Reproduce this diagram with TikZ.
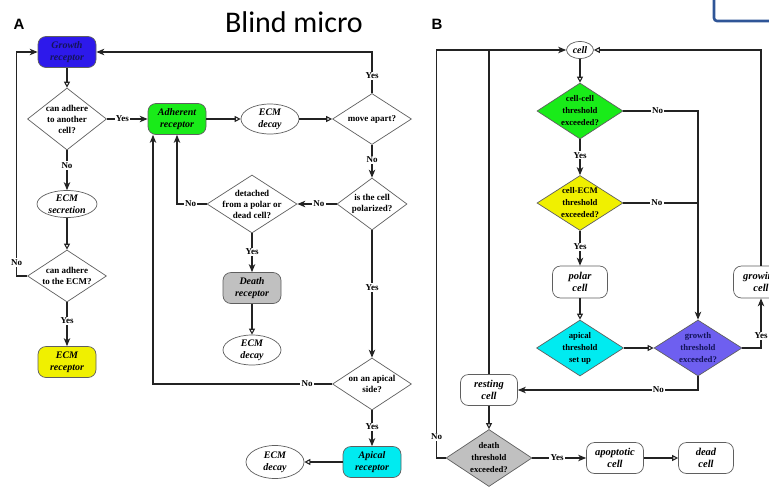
\documentclass[tikz,border=0pt]{standalone}
\usepackage{fontspec}
\setmainfont{Liberation Serif}
\newfontfamily\calib{Carlito}
\newfontfamily\lsans{Liberation Sans}
\usetikzlibrary{shapes.geometric,arrows.meta}
\definecolor{lc}{RGB}{35,35,35}
\definecolor{bc}{RGB}{95,95,95}
\definecolor{cgrow}{RGB}{45,25,235}
\definecolor{cgrowt}{RGB}{20,20,90}
\definecolor{cgreen}{RGB}{25,235,25}
\definecolor{cyel}{RGB}{240,240,0}
\definecolor{cgray}{RGB}{192,192,192}
\definecolor{ccyan}{RGB}{0,235,240}
\definecolor{cpurp}{RGB}{110,95,240}
\definecolor{pptblue}{RGB}{47,85,151}
\newcommand{\bxfont}{\fontsize{10}{12}\selectfont\bfseries\itshape}
\newcommand{\bbfont}{\fontsize{10.5}{12.5}\selectfont\bfseries\itshape}
\newcommand{\dafont}{\fontsize{9}{11}\selectfont\bfseries}
\newcommand{\dbfont}{\fontsize{8.7}{12}\selectfont\bfseries}
\newcommand{\lbfont}{\fontsize{9}{11}\selectfont\bfseries}
\tikzset{
  ln/.style={draw=lc, line width=1.1pt},
  fa/.style={ln, -{Stealth[length=8pt,width=6.5pt,inset=2.4pt]}},
  oa/.style={ln, -{Triangle[open,length=6pt,width=6pt,fill=white]}},
  bx/.style={rectangle, rounded corners=8pt, draw=bc, line width=0.7pt,
    minimum width=58pt, minimum height=31pt, inner sep=0pt, align=center,
    font=\bxfont, text=black},
  bxb/.style={bx, fill=white, font=\bbfont},
  el/.style={ellipse, draw=bc, line width=0.7pt, minimum width=58pt,
    minimum height=30pt, inner sep=-4pt, align=center, font=\bxfont, fill=white},
  dm/.style={diamond, draw=bc, line width=0.7pt, inner sep=-10pt,
    align=center, font=\dafont},
  dmb/.style={dm, font=\dbfont},
  lb/.style={fill=white, inner sep=1.2pt, font=\lbfont},
}
\begin{document}
\begin{tikzpicture}[x=1pt,y=-1pt]
\useasboundingbox (0,0) rectangle (769,491);
\clip (0,0) rectangle (769,491);
\fill[white] (0,0) rectangle (769,491);

% headings
\node[font=\lsans\bfseries\fontsize{15}{15}\selectfont, inner sep=0pt] (pa) at (19,24) {A};
\node[font=\lsans\bfseries\fontsize{15}{15}\selectfont, inner sep=0pt] (pb) at (437,24) {B};
\node[font=\calib\fontsize{30}{30}\selectfont, inner sep=0pt, anchor=base] (title) at (294,32.7) {Blind micro};
\draw[draw=pptblue, line width=2.6pt, rounded corners=3pt] (714,-20) rectangle (800,21);

% ---------------- Panel A ----------------
\node[bx, fill=cgrow, text=cgrowt] (gr) at (67,52) {Growth\\receptor};
\node[dm, minimum width=79pt, minimum height=62pt] (d1) at (67,119) {can adhere\\to another\\cell?};
\node[el, minimum width=60pt, minimum height=27pt] (ecms) at (67,204) {ECM\\secretion};
\node[dm, minimum width=79pt, minimum height=52pt] (d2) at (67,276) {can adhere\\to the ECM?};
\node[bx, fill=cyel] (ecmr) at (67,362) {ECM\\receptor};
\node[bx, fill=cgreen] (ad) at (177,119) {Adherent\\receptor};
\node[el] (ecmd1) at (270,119) {ECM\\decay};
\node[dm, minimum width=79pt, minimum height=51pt] (d3) at (372,119) {move apart?};
\node[dm, minimum width=70pt, minimum height=52pt] (d4) at (372,204) {is the cell\\polarized?};
\node[dm, minimum width=90pt, minimum height=58pt] (d5) at (252,204) {detached\\from a polar or\\dead cell?};
\node[bx, fill=cgray] (death) at (252,288) {Death\\receptor};
\node[el] (ecmd2) at (252,350) {ECM\\decay};
\node[dm, minimum width=79pt, minimum height=52pt] (d6) at (372,384) {on an apical\\side?};
\node[bx, fill=ccyan] (apical) at (372,462) {Apical\\receptor};
\node[el, minimum height=33pt] (ecmd3) at (275,462) {ECM\\decay};

\draw[oa] (gr) -- (d1);
\draw[fa] (d1.east) -- node[lb,pos=0.38] (la1) {Yes} (ad.west);
\draw[fa] (d1.south) -- node[lb,pos=0.38] (la2) {No} (ecms.north);
\draw[oa] (ecms.south) -- (d2.north);
\draw[fa] (d2.west) -- ++(-10.5,0) |- node[lb,pos=0.03] (la3) {No} (gr.west);
\draw[fa] (d2.south) -- node[lb,pos=0.42] (la4) {Yes} (ecmr.north);
\draw[oa] (ad.east) -- (ecmd1.west);
\draw[oa] (ecmd1.east) -- (d3.west);
\draw[fa] (d3.north) |- node[lb,pos=0.21] (la5) {Yes} (gr.east);
\draw[fa] (d3.south) -- node[lb,pos=0.46] (la6) {No} (d4.north);
\draw[fa] (d4.west) -- node[lb,pos=0.45] (la7) {No} (d5.east);
\draw[fa] (d5.west) -| node[lb,pos=0.27] (la8) {No} (ad.south);
\draw[fa] (d5.south) -- node[lb,pos=0.48] (la9) {Yes} (death.north);
\draw[oa] (death.south) -- (ecmd2.north);
\draw[fa] (d4.south) -- node[lb,pos=0.45] (la10) {Yes} (d6.north);
\draw[fa] (d6.west) -| node[lb,pos=0.07] (la11) {No} ([xshift=-24pt]ad.south);
\draw[fa] (d6.south) -- node[lb,pos=0.46] (la12) {Yes} (apical.north);
\draw[oa] (apical.west) -- (ecmd3.east);

% ---------------- Panel B ----------------
\node[el, minimum width=27pt, minimum height=17pt] (cell) at (580,50) {cell};
\node[dmb, fill=cgreen, minimum width=86pt, minimum height=56pt] (cc) at (580,111) {cell-cell\\threshold\\exceeded?};
\node[dmb, fill=cyel, minimum width=86pt, minimum height=55pt] (ce) at (580,203) {cell-ECM\\threshold\\exceeded?};
\node[bxb, minimum width=55pt, minimum height=32pt] (polar) at (580,282) {polar\\cell};
\node[dmb, fill=ccyan, minimum width=87pt, minimum height=56pt] (ap) at (580,348) {apical\\threshold\\set up};
\node[dmb, fill=cpurp, text=cgrowt, minimum width=88pt, minimum height=56pt] (gd) at (698,348) {growth\\threshold\\exceeded?};
\node[bxb, minimum width=55pt, minimum height=32pt] (grow) at (761,282) {growing\\cell};
\node[bxb, minimum width=57pt] (rest) at (489,390) {resting\\cell};
\node[dmb, fill=cgray, minimum width=86pt, minimum height=57pt] (dth) at (489,458) {death\\threshold\\exceeded?};
\node[bxb, minimum width=57pt] (apop) at (615,458) {apoptotic\\cell};
\node[bxb, minimum width=55pt] (dead) at (706,458) {dead\\cell};

\draw[fa] (dth.west) -- ++(-9,0) |- node[lb,pos=0.026] (lb1) {No} (cell.west);
\draw[ln] (rest.north) -- (rest.north |- cell.west);
\draw[oa] (cell.south) -- (cc.north);
\draw[fa] (cc.east) -| node[lb,pos=0.23] (lb2) {No} (gd.north);
\draw[ln] (ce.east) -- node[lb,pos=0.45] (lb3) {No} (ce.east -| gd.north);
\draw[fa] (cc.south) -- node[lb,pos=0.44] (lb4) {Yes} (ce.north);
\draw[fa] (ce.south) -- node[lb,pos=0.46] (lb5) {Yes} (polar.north);
\draw[oa] (polar.south) -- (ap.north);
\draw[oa] (ap.east) -- (gd.west);
\draw[fa] (gd.east) -| node[lb,pos=0.62] (lb6) {Yes} (grow.south);
\draw[oa] (grow.north) |- (cell.east);
\draw[fa] (gd.south) |- node[lb,pos=0.61] (lb7) {No} (rest.east);
\draw[oa] (rest.south) -- (dth.north);
\draw[fa] (dth.east) -- node[lb,pos=0.46] (lb8) {Yes} (apop.west);
\draw[oa] (apop.east) -- (dead.west);
\end{tikzpicture}
\end{document}
